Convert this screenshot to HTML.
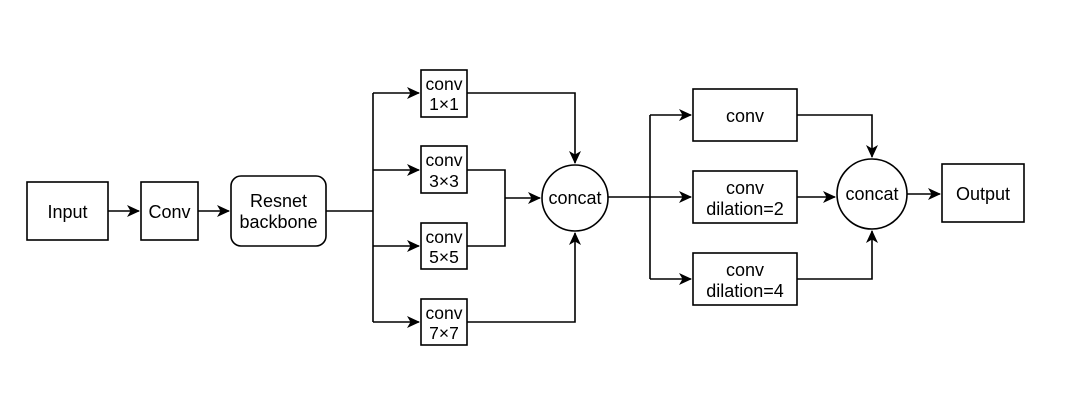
<!DOCTYPE html>
<html><head><meta charset="utf-8"><style>
html,body{margin:0;padding:0;background:#fff;width:1080px;height:415px;overflow:hidden}
text{font-family:"Liberation Sans",Arial,sans-serif;fill:#000}
</style></head><body>
<svg width="1080" height="415" viewBox="0 0 1080 415" xmlns="http://www.w3.org/2000/svg">
<defs><marker id="a" markerWidth="14" markerHeight="14" refX="12" refY="7" orient="auto" markerUnits="userSpaceOnUse"><path d="M0,1 L13,7 L0,13 L3.5,7 Z" fill="#000"/></marker></defs>
<g fill="none" stroke="#000" stroke-width="1.6">
<rect x="27" y="182" width="81" height="58" fill="#fff"/>
<rect x="141" y="182" width="57" height="58" fill="#fff"/>
<rect x="231" y="176" width="95" height="70" rx="10" fill="#fff"/>
<rect x="421" y="70" width="46" height="47"/>
<rect x="421" y="146" width="46" height="47"/>
<rect x="421" y="223" width="46" height="46"/>
<rect x="421" y="299" width="46" height="46"/>
<circle cx="575" cy="198" r="33"/>
<rect x="693" y="89" width="104" height="52"/>
<rect x="693" y="171" width="104" height="52"/>
<rect x="693" y="253" width="104" height="52"/>
<circle cx="872" cy="194" r="35"/>
<rect x="942" y="164" width="82" height="58"/>
<line x1="108" y1="211" x2="139" y2="211" marker-end="url(#a)"/>
<line x1="198" y1="211" x2="229" y2="211" marker-end="url(#a)"/>
<line x1="326" y1="211" x2="373" y2="211"/>
<line x1="373" y1="93" x2="373" y2="322"/>
<line x1="373" y1="93" x2="419" y2="93" marker-end="url(#a)"/>
<line x1="373" y1="170" x2="419" y2="170" marker-end="url(#a)"/>
<line x1="373" y1="246" x2="419" y2="246" marker-end="url(#a)"/>
<line x1="373" y1="322" x2="419" y2="322" marker-end="url(#a)"/>
<polyline points="467,93 575,93 575,163" marker-end="url(#a)"/>
<polyline points="467,170 505,170 505,246 467,246"/>
<line x1="505" y1="198" x2="540" y2="198" marker-end="url(#a)"/>
<polyline points="467,322 575,322 575,233" marker-end="url(#a)"/>
<line x1="608" y1="197" x2="650" y2="197"/>
<line x1="650" y1="115" x2="650" y2="279"/>
<line x1="650" y1="115" x2="691" y2="115" marker-end="url(#a)"/>
<line x1="650" y1="197" x2="691" y2="197" marker-end="url(#a)"/>
<line x1="650" y1="279" x2="691" y2="279" marker-end="url(#a)"/>
<polyline points="797,115 872,115 872,157" marker-end="url(#a)"/>
<line x1="797" y1="197" x2="835" y2="197" marker-end="url(#a)"/>
<polyline points="797,279 872,279 872,231" marker-end="url(#a)"/>
<line x1="907" y1="194" x2="940" y2="194" marker-end="url(#a)"/>
</g>
<g font-size="18" text-anchor="middle">
<text x="67.5" y="218">Input</text>
<text x="169.5" y="218">Conv</text>
<text x="278.5" y="207">Resnet</text>
<text x="278.5" y="228">backbone</text>
<text x="575" y="204">concat</text>
<text x="872" y="200">concat</text>
<text x="983" y="200">Output</text>
<text x="745" y="122">conv</text>
<text x="745" y="194">conv</text>
<text x="745" y="215">dilation=2</text>
<text x="745" y="276">conv</text>
<text x="745" y="297">dilation=4</text>
</g>
<g font-size="17.5" text-anchor="middle">
<text x="444" y="90">conv</text><text x="444" y="110">1×1</text>
<text x="444" y="166">conv</text><text x="444" y="187">3×3</text>
<text x="444" y="243">conv</text><text x="444" y="263">5×5</text>
<text x="444" y="319">conv</text><text x="444" y="339">7×7</text>
</g>
</svg>
</body></html>
